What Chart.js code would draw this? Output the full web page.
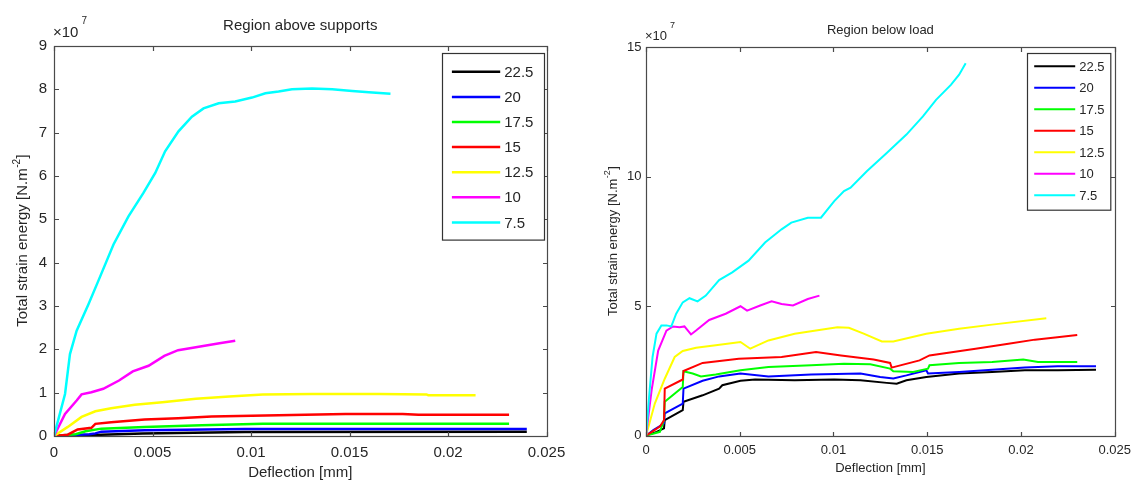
<!DOCTYPE html>
<html>
<head>
<meta charset="utf-8">
<script src="https://cdn.jsdelivr.net/npm/chart.js@4/dist/chart.umd.min.js"></script>
<style>
  html, body { margin: 0; padding: 0; background: #fff; }
  #wrap { position: relative; width: 1138px; height: 482px; overflow: hidden; background: #fff; }
  canvas { position: absolute; top: 0; }
  #left { left: 0; }
  #right { left: 575px; }
</style>
</head>
<body>
<div id="wrap">
  <canvas id="left" width="575" height="482"></canvas>
  <canvas id="right" width="563" height="482"></canvas>
</div>
<script>
// Span lengths (legend) and their line colours
const spans = ['22.5', '20', '17.5', '15', '12.5', '10', '7.5'];
const colors = ['#000000', '#0000ff', '#00ff00', '#ff0000', '#ffff00', '#ff00ff', '#00ffff'];

// Deflection axis ticks [mm]
const xTicks = [0, 0.005, 0.01, 0.015, 0.02, 0.025];
const xTickLabels = ['0', '0.005', '0.01', '0.015', '0.02', '0.025'];

// Strain energy axis ticks, in units of 10^7 N.m^-2
const yTicksAbove = [0, 1, 2, 3, 4, 5, 6, 7, 8, 9];
const yTicksBelow = [0, 5, 10, 15];

// Region above supports: [deflection mm, total strain energy x10^7]
const above225 = [[0,0],[0.001,0],[0.0024,0.03],[0.0045,0.06],[0.0097,0.09],[0.024,0.1]];
const above20  = [[0,0],[0.0018,0.04],[0.0021,0.06],[0.0024,0.1],[0.0046,0.13],[0.0097,0.16],[0.024,0.16]];
const above175 = [[0,0],[0.0011,0.04],[0.0016,0.11],[0.0024,0.17],[0.0046,0.21],[0.0075,0.25],[0.0106,0.28],[0.0185,0.28],[0.0231,0.28]];
const above15  = [[0,0],[0.0007,0.03],[0.0012,0.15],[0.0019,0.19],[0.0021,0.28],[0.0029,0.32],[0.0046,0.38],[0.0063,0.41],[0.008,0.45],[0.0114,0.48],[0.0148,0.51],[0.0177,0.51],[0.0185,0.49],[0.0231,0.49]];
const above125 = [[0,0],[0.0007,0.21],[0.0014,0.44],[0.0021,0.57],[0.0029,0.64],[0.0041,0.72],[0.0055,0.78],[0.0072,0.86],[0.0089,0.91],[0.0106,0.96],[0.0131,0.97],[0.0165,0.97],[0.0189,0.96],[0.019,0.94],[0.0214,0.94]];
const above10  = [[0,0],[0.00056,0.51],[0.00115,0.82],[0.0014,0.96],[0.0019,1.01],[0.0025,1.09],[0.0033,1.28],[0.004,1.49],[0.0048,1.62],[0.0056,1.85],[0.0063,1.98],[0.0072,2.05],[0.0084,2.14],[0.0092,2.2]];
const above75  = [[0,0],[0.00056,0.97],[0.00081,1.89],[0.00115,2.43],[0.00175,3.04],[0.00225,3.58],[0.00302,4.42],[0.00378,5.07],[0.00454,5.61],[0.00514,6.07],[0.00564,6.57],[0.00632,7.03],[0.007,7.37],[0.00759,7.56],[0.00836,7.68],[0.0092,7.72],[0.01005,7.81],[0.01073,7.91],[0.0114,7.95],[0.01208,8.0],[0.0131,8.02],[0.01412,8.0],[0.01514,7.96],[0.01598,7.93],[0.01708,7.9]];

// Region below load: [deflection mm, total strain energy x10^7]
const below225 = [[0,0],[0.00056,0.15],[0.00096,0.28],[0.001,0.6],[0.00196,0.99],[0.002,1.31],[0.00302,1.56],[0.0039,1.82],[0.00407,1.95],[0.00504,2.12],[0.00582,2.17],[0.00793,2.14],[0.01004,2.17],[0.01144,2.14],[0.01284,2.04],[0.01337,2.01],[0.01389,2.14],[0.01495,2.27],[0.0167,2.4],[0.01846,2.46],[0.02021,2.53],[0.02196,2.53],[0.024,2.55]];
const below20  = [[0,0],[0.00039,0.22],[0.00096,0.47],[0.001,0.86],[0.00196,1.24],[0.002,1.82],[0.00302,2.12],[0.0039,2.29],[0.00504,2.4],[0.00653,2.29],[0.00881,2.36],[0.01144,2.4],[0.01249,2.27],[0.01319,2.21],[0.01389,2.33],[0.01495,2.53],[0.01504,2.4],[0.0167,2.46],[0.01846,2.55],[0.02021,2.63],[0.02196,2.68],[0.024,2.68]];
const below175 = [[0,0],[0.00074,0.15],[0.00096,0.6],[0.001,1.31],[0.00196,1.88],[0.002,2.49],[0.00249,2.4],[0.00293,2.29],[0.00372,2.36],[0.00504,2.53],[0.00653,2.65],[0.00881,2.72],[0.01056,2.78],[0.01196,2.76],[0.01302,2.59],[0.01319,2.49],[0.01425,2.46],[0.01504,2.59],[0.01512,2.72],[0.0167,2.81],[0.01846,2.85],[0.02012,2.94],[0.02091,2.85],[0.023,2.85]];
const below15  = [[0,0],[0.00074,0.35],[0.00096,0.6],[0.001,1.82],[0.00196,2.17],[0.002,2.5],[0.00302,2.81],[0.00495,2.97],[0.00723,3.04],[0.00907,3.23],[0.0104,3.1],[0.01214,2.94],[0.01302,2.81],[0.0131,2.63],[0.01459,2.91],[0.01512,3.1],[0.01758,3.36],[0.01933,3.55],[0.02074,3.71],[0.02194,3.8],[0.023,3.89]];
const below125 = [[0,0],[0.00047,1.24],[0.001,2.2],[0.00153,3.04],[0.00196,3.27],[0.00267,3.4],[0.00372,3.49],[0.00504,3.62],[0.00556,3.36],[0.00653,3.68],[0.00793,3.94],[0.00933,4.09],[0.01021,4.19],[0.01082,4.17],[0.01161,3.94],[0.01258,3.64],[0.01319,3.64],[0.01495,3.94],[0.0167,4.13],[0.01846,4.29],[0.02135,4.54]];
const below10  = [[0,0],[0.0003,1.76],[0.00065,3.29],[0.00109,4.06],[0.00144,4.22],[0.00179,4.19],[0.00205,4.22],[0.0024,3.91],[0.00267,4.06],[0.00337,4.47],[0.00425,4.71],[0.00504,5.0],[0.00539,4.83],[0.00609,5.03],[0.0067,5.19],[0.00723,5.09],[0.00784,5.03],[0.00863,5.28],[0.00925,5.41]];
const below75  = [[0,0],[0.00018,1.63],[0.00035,3.04],[0.00056,3.94],[0.00082,4.26],[0.00109,4.26],[0.00135,4.22],[0.00161,4.71],[0.00196,5.15],[0.00232,5.31],[0.00275,5.19],[0.00319,5.41],[0.0039,6.01],[0.0046,6.31],[0.00547,6.76],[0.00635,7.46],[0.00723,7.97],[0.00775,8.23],[0.00863,8.42],[0.00933,8.42],[0.01004,9.06],[0.01056,9.45],[0.01091,9.58],[0.01179,10.22],[0.01284,10.92],[0.01389,11.63],[0.01477,12.33],[0.01547,12.97],[0.01626,13.55],[0.0167,13.94],[0.01705,14.38]];

const aboveSeries = [above225, above20, above175, above15, above125, above10, above75];
const belowSeries = [below225, below20, below175, below15, below125, below10, below75];

const TEXT = '#262626';
const FAMILY = '"Liberation Sans", Arial, Helvetica, sans-serif';

// Axes box with inward ticks on all sides, legend box, titles and the x10^7 multiplier
const matlabFrame = {
  id: 'matlabFrame',
  afterDatasetsDraw(chart, args, o) {
    const { ctx, chartArea: a, scales: { x, y } } = chart;
    ctx.save();
    ctx.strokeStyle = '#4a4a4a';
    ctx.lineWidth = 1.2;
    const L = Math.round(a.left) + 0.5, R = Math.round(a.right) + 0.5;
    const T = Math.round(a.top) + 0.5, B = Math.round(a.bottom) + 0.5;
    ctx.beginPath();
    x.ticks.forEach(t => {
      const px = Math.round(x.getPixelForValue(t.value)) + 0.5;
      ctx.moveTo(px, B); ctx.lineTo(px, B - o.tick);
      ctx.moveTo(px, T); ctx.lineTo(px, T + o.tick);
    });
    y.ticks.forEach(t => {
      const py = Math.round(y.getPixelForValue(t.value)) + 0.5;
      ctx.moveTo(L, py); ctx.lineTo(L + o.tick, py);
      ctx.moveTo(R, py); ctx.lineTo(R - o.tick, py);
    });
    ctx.stroke();
    ctx.strokeRect(L, T, R - L, B - T);

    // legend
    const lg = o.legend;
    const bx = Math.round(a.right - lg.inset - lg.w) + 0.5;
    const by = Math.round(a.top + lg.top) + 0.5;
    ctx.fillStyle = '#fff';
    ctx.fillRect(bx, by, lg.w, lg.h);
    ctx.strokeStyle = '#333';
    ctx.lineWidth = 1.2;
    ctx.strokeRect(bx, by, lg.w, lg.h);
    ctx.font = o.font + 'px ' + FAMILY;
    ctx.textBaseline = 'middle';
    ctx.textAlign = 'left';
    chart.data.datasets.forEach((ds, i) => {
      const ry = by + lg.first + i * lg.step;
      ctx.strokeStyle = ds.borderColor;
      ctx.lineWidth = lg.lw;
      ctx.beginPath();
      ctx.moveTo(bx + lg.l0, ry); ctx.lineTo(bx + lg.l1, ry);
      ctx.stroke();
      ctx.fillStyle = TEXT;
      ctx.fillText(ds.label, bx + lg.tx, ry + 1);
    });

    // title
    const cx = (a.left + a.right) / 2;
    ctx.fillStyle = TEXT;
    ctx.textAlign = 'center';
    ctx.font = o.font + 'px ' + FAMILY;
    ctx.fillText(o.title, cx, o.titleY);

    // x axis title
    ctx.fillText('Deflection [mm]', cx, o.xTitleY);

    // multiplier
    ctx.textAlign = 'left';
    ctx.fillText('\u00d710', a.left - 1, o.expY);
    const w10 = ctx.measureText('\u00d710').width;
    ctx.font = o.supFont + 'px ' + FAMILY;
    ctx.fillText('7', a.left + w10 + 2, o.expY - o.supRise);

    // y axis title with superscript
    ctx.save();
    ctx.translate(o.yTitleX, (a.top + a.bottom) / 2);
    ctx.rotate(-Math.PI / 2);
    const main = 'Total strain energy [N.m';
    ctx.font = o.font + 'px ' + FAMILY;
    const w1 = ctx.measureText(main).width;
    const w3 = ctx.measureText(']').width;
    ctx.font = o.supFont + 'px ' + FAMILY;
    const w2 = ctx.measureText('-2').width;
    const sx = -(w1 + w2 + w3) / 2;
    ctx.textAlign = 'left';
    ctx.font = o.font + 'px ' + FAMILY;
    ctx.fillText(main, sx, 0);
    ctx.font = o.supFont + 'px ' + FAMILY;
    ctx.fillText('-2', sx + w1 + 0.5, -o.labelRise);
    ctx.font = o.font + 'px ' + FAMILY;
    ctx.fillText(']', sx + w1 + w2 + 1, 0);
    ctx.restore();

    ctx.restore();
  }
};

function makeChart(id, series, yTicks, yMax, opt) {
  const datasets = series.map((pts, i) => ({
    label: spans[i],
    data: pts.map(p => ({ x: p[0], y: p[1] })),
    borderColor: colors[i],
    backgroundColor: colors[i],
    borderWidth: opt.lineW,
    pointRadius: 0,
    tension: 0,
    fill: false,
    order: series.length - i
  }));
  return new Chart(document.getElementById(id), {
    type: 'line',
    data: { datasets },
    options: {
      responsive: false,
      animation: false,
      devicePixelRatio: 1,
      layout: { padding: { top: opt.top, right: opt.right, left: 0, bottom: 0 } },
      plugins: {
        legend: { display: false },
        tooltip: { enabled: false },
        title: { display: false },
        matlabFrame: opt.frame
      },
      scales: {
        x: {
          type: 'linear',
          min: xTicks[0],
          max: xTicks[xTicks.length - 1],
          afterBuildTicks: s => { s.ticks = xTicks.map(v => ({ value: v })); },
          afterFit: s => { s.height = opt.xAxisH; },
          grid: { display: false, drawTicks: false },
          border: { display: false },
          ticks: {
            padding: opt.xPad,
            maxRotation: 0,
            autoSkip: false,
            color: TEXT,
            font: { family: FAMILY, size: opt.frame.font },
            callback: (v, i) => xTickLabels[i]
          }
        },
        y: {
          type: 'linear',
          min: 0,
          max: yMax,
          afterBuildTicks: s => { s.ticks = yTicks.map(v => ({ value: v })); },
          afterFit: s => { s.width = opt.yAxisW; },
          grid: { display: false, drawTicks: false },
          border: { display: false },
          ticks: {
            padding: opt.yPad,
            autoSkip: false,
            color: TEXT,
            font: { family: FAMILY, size: opt.frame.font },
            callback: v => String(v)
          }
        }
      }
    },
    plugins: [matlabFrame]
  });
}

makeChart('left', aboveSeries, yTicksAbove, 9, {
  lineW: 2.5, top: 46, right: 28.5, xAxisH: 46, yAxisW: 54, xPad: 8, yPad: 7,
  frame: {
    font: 15, supFont: 10, supRise: 12, labelRise: 6, tick: 4.5,
    title: 'Region above supports', titleY: 26, expY: 33, xTitleY: 473, yTitleX: 23,
    legend: { inset: 2.2, top: 6.7, w: 102, h: 186.6, first: 18.3, step: 25.1, l0: 9.4, l1: 57.7, tx: 61.7, lw: 2.5 }
  }
});

makeChart('right', belowSeries, yTicksBelow, 15, {
  lineW: 2, top: 47.3, right: 16.5, xAxisH: 46.3, yAxisW: 71, xPad: 7, yPad: 4.5,
  frame: {
    font: 13, supFont: 9, supRise: 11, labelRise: 5, tick: 4.5,
    title: 'Region below load', titleY: 30.7, expY: 36.7, xTitleY: 468, yTitleX: 38,
    legend: { inset: 4.2, top: 6, w: 83.3, h: 156.7, first: 12.7, step: 21.5, l0: 6.7, l1: 47.7, tx: 51.7, lw: 2 }
  }
});
</script>
</body>
</html>
